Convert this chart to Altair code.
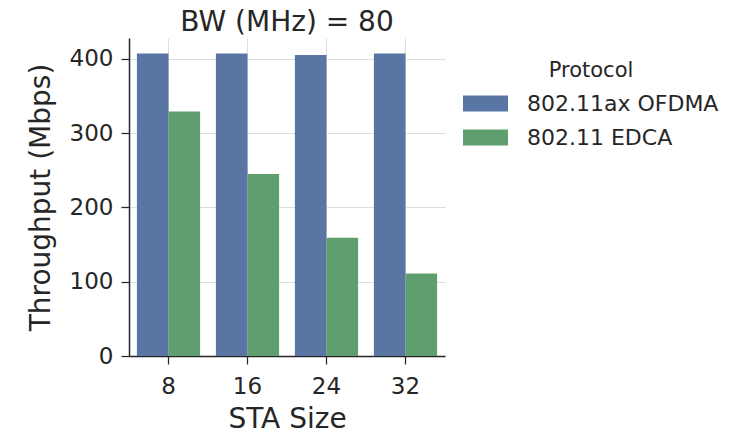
import altair as alt
import pandas as pd

sta_sizes = ["8", "16", "24", "32"]
protocols = ["802.11ax OFDMA", "802.11 EDCA"]
ofdma = [407, 407, 405, 407]
edca = [329, 245, 159, 111]
y_ticks = [0, 100, 200, 300, 400]
colors = ["#5975a4", "#5f9e6e"]

rows = []
for i, s in enumerate(sta_sizes):
    rows.append({"STA Size": s, "Protocol": protocols[0], "Throughput": ofdma[i]})
    rows.append({"STA Size": s, "Protocol": protocols[1], "Throughput": edca[i]})
df = pd.DataFrame(rows)

FONT = "DejaVu Sans"
DARK = "#262626"

chart = alt.Chart(df).mark_bar(strokeWidth=0).encode(
    x=alt.X(
        "STA Size:N",
        sort=sta_sizes,
        scale=alt.Scale(paddingInner=0.2, paddingOuter=0.1),
        axis=alt.Axis(title="STA Size", labelAngle=0, tickSize=8, labelPadding=11,
                      titlePadding=7, grid=True),
    ),
    xOffset=alt.XOffset("Protocol:N", sort=protocols,
                        scale=alt.Scale(paddingInner=0, paddingOuter=0)),
    y=alt.Y(
        "Throughput:Q",
        scale=alt.Scale(domain=[0, 428], nice=False),
        axis=alt.Axis(values=y_ticks, title="Throughput (Mbps)", tickSize=8,
                      labelPadding=8, titlePadding=14, grid=True),
    ),
    color=alt.Color(
        "Protocol:N",
        sort=protocols,
        scale=alt.Scale(domain=protocols, range=colors),
        legend=alt.Legend(
            title="Protocol", orient="none", legendX=334, legendY=22,
            symbolType="M-1,-0.36H1V0.36H-1Z", symbolSize=2025,
            symbolStrokeWidth=0, symbolOpacity=1,
            labelFontSize=22, titleFontSize=21, titleFontWeight="normal",
            titleAnchor="middle", titleColor=DARK, labelColor=DARK,
            labelFont=FONT, titleFont=FONT, labelOffset=19, rowPadding=-8,
            titlePadding=0, labelLimit=400,
        ),
    ),
).properties(
    width=316,
    height=318,
    title=alt.TitleParams("BW (MHz) = 80", fontSize=28, fontWeight="normal",
                          color=DARK, font=FONT, offset=1, anchor="middle"),
    autosize=alt.AutoSizeParams(type="none"),
    padding={"left": 121, "top": 30, "right": 282, "bottom": 80},
).configure_view(stroke=None).configure_axis(
    labelFont=FONT, titleFont=FONT, labelFontSize=23, titleFontSize=28,
    titleFontWeight="normal", labelColor=DARK, titleColor=DARK,
    domainColor=DARK, tickColor=DARK, domainWidth=1.5, tickWidth=1.25,
    gridColor="#dddddd", gridWidth=1,
)

chart.save("out.html", embed_options={"renderer": "svg", "actions": False})
